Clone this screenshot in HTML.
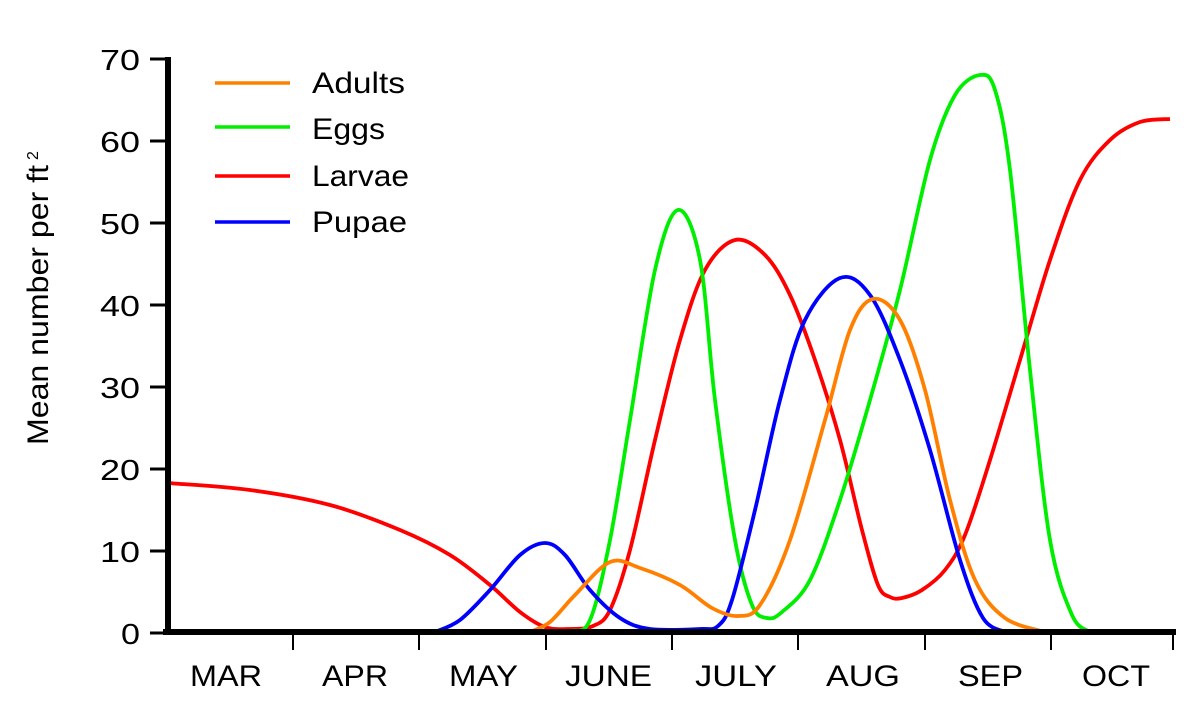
<!DOCTYPE html>
<html><head><meta charset="utf-8"><style>
body{margin:0;background:#fff;}
svg{display:block;font-family:"Liberation Sans",Arial,sans-serif;}
</style></head><body>
<svg id="s" width="1200" height="705" viewBox="0 0 1200 705" xmlns="http://www.w3.org/2000/svg">
<rect width="1200" height="705" fill="#fff"/>
<g stroke="#000" stroke-width="3">
<line x1="150" y1="59" x2="168" y2="59"/><line x1="150" y1="141" x2="168" y2="141"/>
<line x1="150" y1="223" x2="168" y2="223"/><line x1="150" y1="305" x2="168" y2="305"/>
<line x1="150" y1="387" x2="168" y2="387"/><line x1="150" y1="469" x2="168" y2="469"/>
<line x1="150" y1="551" x2="168" y2="551"/><line x1="150" y1="633" x2="168" y2="633"/>
</g>
<g stroke="#000" stroke-width="2">
<line x1="293" y1="632" x2="293" y2="650"/><line x1="419" y1="632" x2="419" y2="650"/>
<line x1="546" y1="632" x2="546" y2="650"/><line x1="672" y1="632" x2="672" y2="650"/>
<line x1="798" y1="632" x2="798" y2="650"/><line x1="925" y1="632" x2="925" y2="650"/>
<line x1="1051" y1="632" x2="1051" y2="650"/><line x1="1173" y1="632" x2="1173" y2="650"/>
</g>
<g font-size="29" fill="#000">
<text x="100" y="70" textLength="40" lengthAdjust="spacingAndGlyphs">70</text>
<text x="100" y="152" textLength="40" lengthAdjust="spacingAndGlyphs">60</text>
<text x="100" y="234" textLength="40" lengthAdjust="spacingAndGlyphs">50</text>
<text x="100" y="316" textLength="40" lengthAdjust="spacingAndGlyphs">40</text>
<text x="100" y="398" textLength="40" lengthAdjust="spacingAndGlyphs">30</text>
<text x="100" y="480" textLength="40" lengthAdjust="spacingAndGlyphs">20</text>
<text x="100" y="562" textLength="40" lengthAdjust="spacingAndGlyphs">10</text>
<text x="121" y="644" textLength="19" lengthAdjust="spacingAndGlyphs">0</text>
</g>
<g font-size="30" fill="#000">
<text x="190" y="686" textLength="72" lengthAdjust="spacingAndGlyphs">MAR</text>
<text x="322" y="686" textLength="66" lengthAdjust="spacingAndGlyphs">APR</text>
<text x="449" y="686" textLength="69" lengthAdjust="spacingAndGlyphs">MAY</text>
<text x="565" y="686" textLength="87" lengthAdjust="spacingAndGlyphs">JUNE</text>
<text x="695" y="686" textLength="82" lengthAdjust="spacingAndGlyphs">JULY</text>
<text x="826" y="686" textLength="74" lengthAdjust="spacingAndGlyphs">AUG</text>
<text x="958" y="686" textLength="65" lengthAdjust="spacingAndGlyphs">SEP</text>
<text x="1082" y="686" textLength="68" lengthAdjust="spacingAndGlyphs">OCT</text>
</g>
<text transform="translate(48,445) rotate(-90)" font-size="30" textLength="280" lengthAdjust="spacingAndGlyphs">Mean number per ft</text>
<text transform="translate(38,160) rotate(-90)" font-size="16">2</text>
<g stroke-width="3.5">
<line x1="215" y1="83" x2="290" y2="83" stroke="#ff8000"/>
<line x1="215" y1="127" x2="290" y2="127" stroke="#00ee00"/>
<line x1="215" y1="176" x2="290" y2="176" stroke="#ff0000"/>
<line x1="215" y1="222" x2="290" y2="222" stroke="#0000ff"/>
</g>
<g font-size="30">
<text x="312" y="93" textLength="93" lengthAdjust="spacingAndGlyphs">Adults</text>
<text x="312" y="139" textLength="73" lengthAdjust="spacingAndGlyphs">Eggs</text>
<text x="312" y="186" textLength="97" lengthAdjust="spacingAndGlyphs">Larvae</text>
<text x="312" y="232" textLength="95" lengthAdjust="spacingAndGlyphs">Pupae</text>
</g>
<g id="curves" fill="none" stroke-width="3.8" stroke-linejoin="round"></g>
<line x1="163" y1="632" x2="1176" y2="632" stroke="#000" stroke-width="6"/>
<line x1="168" y1="57" x2="168" y2="635" stroke="#000" stroke-width="6"/>
</svg>
<script>
function cr(p){var d="M"+p[0][0]+","+p[0][1];for(var i=0;i<p.length-1;i++){var a=p[i-1]||p[i],b=p[i],c=p[i+1],e=p[i+2]||c;
d+=" C"+(b[0]+(c[0]-a[0])/6)+","+(b[1]+(c[1]-a[1])/6)+" "+(c[0]-(e[0]-b[0])/6)+","+(c[1]-(e[1]-b[1])/6)+" "+c[0]+","+c[1];}return d;}
var S={
"#ff0000":[[168,483],[250,490],[330,505],[400,530],[450,555],[490,585],[520,612],[545,627],[570,629],[593,626],[610,610],[630,550],[655,440],[680,340],[705,270],[735,240],[765,255],[790,295],[815,360],[840,440],[862,530],[878,585],[890,597],[902,598],[922,590],[945,570],[965,535],[990,460],[1020,360],[1050,260],[1080,180],[1110,140],[1140,122],[1170,119]],
"#00ee00":[[540,632],[570,631],[590,620],[610,540],[630,420],[655,270],[678,210],[700,260],[715,400],[735,540],[752,605],[767,618],[782,612],[810,580],[840,500],[870,400],[900,290],[930,160],[955,95],[980,75],[995,90],[1010,170],[1030,370],[1050,540],[1072,615],[1090,632]],
"#0000ff":[[435,632],[460,620],[490,590],[520,555],[545,543],[565,555],[590,590],[620,618],[650,629],[700,629],[718,626],[732,600],[755,510],[780,400],[805,320],[840,278],[870,295],[900,360],[930,450],[960,560],[983,618],[1005,632]],
"#ff8000":[[530,632],[550,622],[575,595],[610,562],[640,568],[680,585],[712,608],[738,616],[760,605],[790,540],[825,420],[850,330],[873,299],[900,320],[925,390],[950,500],[975,580],[1005,618],[1045,632]]};
var g=document.getElementById("curves");
["#ff0000","#00ee00","#0000ff","#ff8000"].forEach(function(k){var p=document.createElementNS("http://www.w3.org/2000/svg","path");p.setAttribute("d",cr(S[k]));p.setAttribute("stroke",k);g.appendChild(p);});
</script>
</body></html>
